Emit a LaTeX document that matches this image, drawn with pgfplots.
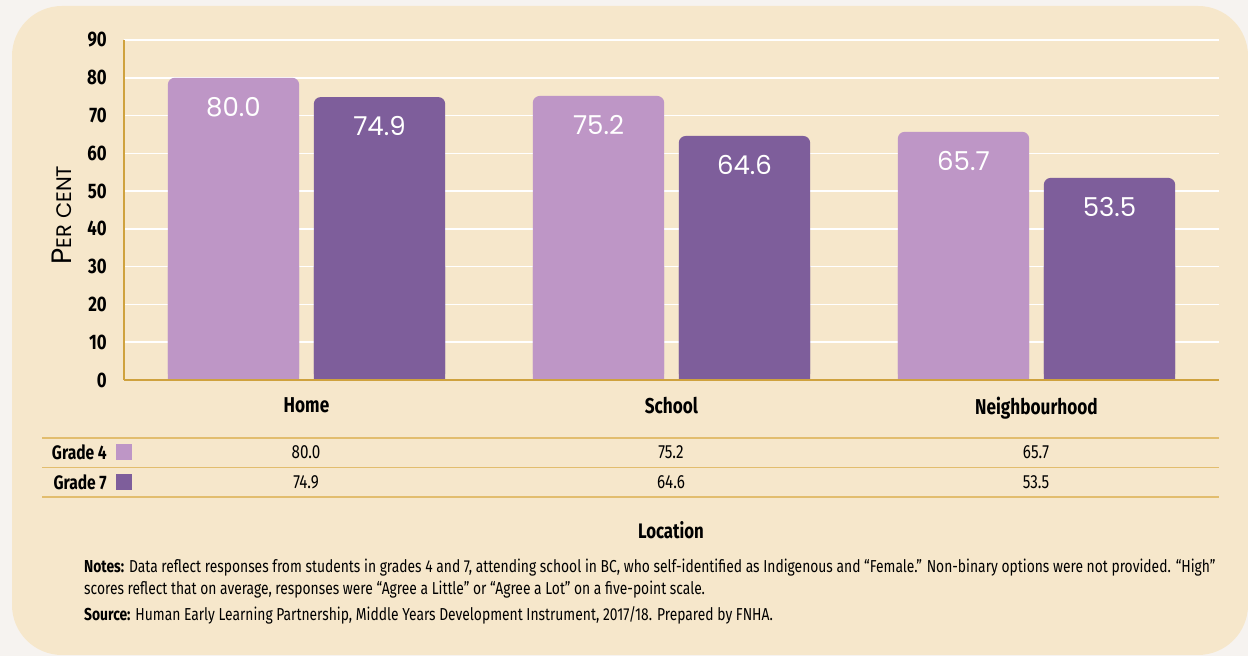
\documentclass[border=0pt]{standalone}
\usepackage{fontspec}
\setmainfont{Fira Sans}[FakeStretch=0.8]
\newfontfamily\geo{Poppins}
\usepackage{pgfplots}
\pgfplotsset{compat=1.18}
\definecolor{outerbg}{HTML}{F6F3F0}
\definecolor{cream}{HTML}{F6E7CB}
\definecolor{lightp}{HTML}{BE96C6}
\definecolor{darkp}{HTML}{7E5E9B}
\definecolor{gold}{HTML}{CFA23E}
\definecolor{tline}{HTML}{E2BD6E}
\begin{document}
\begin{tikzpicture}[x=1pt,y=1pt]
\path[use as bounding box] (0,0) rectangle (1248,656);
\fill[outerbg] (0,0) rectangle (1248,656);
\fill[cream, rounded corners=50pt] (12,1) rectangle (1248,650);
\begin{axis}[
 at={(124pt,276pt)}, anchor=south west, scale only axis,
 width=1095pt, height=340pt,
 xmin=-0.5, xmax=2.5, ymin=0, ymax=90,
 xtick={0,1,2}, xticklabels={Home,School,Neighbourhood},
 ytick={0,10,...,90},
 axis x line*=bottom, axis y line*=left,
 axis line style={gold, line width=2.5pt, -},
 major tick length=0pt,
 ymajorgrids, grid style={white, line width=1.5pt},
 ybar, bar width=0.36,
 /pgf/number format/assume math mode=true,
 xticklabel style={font=\fontsize{21.5}{21.5}\selectfont\bfseries, anchor=north, inner sep=0pt, yshift=-17pt},
 yticklabel style={font=\fontsize{21}{21}\selectfont\bfseries, anchor=east, inner sep=0pt, xshift=-17pt},
 nodes near coords={\pgfmathprintnumber[fixed,zerofill,precision=1]{\pgfplotspointmeta}},
 every node near coord/.append style={font=\geo\fontsize{26}{26}\selectfont, text=white, anchor=north, inner sep=0pt, yshift=-19pt},
]
\addplot[fill=lightp, draw=none, rounded corners=7pt, bar shift=-0.2] coordinates {(0,80.0) (1,75.2) (2,65.7)};
\addplot[fill=darkp, draw=none, rounded corners=7pt, bar shift=0.2] coordinates {(0,74.9) (1,64.6) (2,53.5)};
\end{axis}
\begin{axis}[
 at={(124pt,276pt)}, anchor=south west, scale only axis,
 width=1095pt, height=113.333pt,
 xmin=-0.5, xmax=2.5, ymin=0, ymax=30,
 axis x line*=bottom, axis y line=none,
 axis line style={gold, line width=2.5pt, -},
 xtick=\empty, ytick=\empty, axis on top, clip=true,
 ybar, bar width=0.36,
]
\addplot[fill=lightp, draw=none, bar shift=-0.2] coordinates {(0,80.0) (1,75.2) (2,65.7)};
\addplot[fill=darkp, draw=none, bar shift=0.2] coordinates {(0,74.9) (1,64.6) (2,53.5)};
\end{axis}
% y label
\node[rotate=90, anchor=center] at (62,441) {\geo{\fontsize{28}{28}\selectfont P}{\fontsize{21}{21}\selectfont ER CENT}};
% table
\draw[tline, line width=1.5pt] (42,218) -- (1219,218);
\draw[tline, line width=1.5pt] (42,188.5) -- (1219,188.5);
\draw[tline, line width=1.5pt] (42,159) -- (1219,159);
\node[anchor=east, inner sep=0pt, font=\fontsize{19.5}{19.5}\selectfont\bfseries] at (107,204) {Grade 4};
\node[anchor=east, inner sep=0pt, font=\fontsize{19.5}{19.5}\selectfont\bfseries] at (107,174) {Grade 7};
\fill[lightp] (116,196) rectangle (132,212);
\fill[darkp] (116,166) rectangle (132,182);
\begin{scope}[every node/.style={anchor=center, inner sep=0pt, font=\fontsize{19}{19}\selectfont}]
\node at (306,204) {80.0}; \node at (671,204) {75.2}; \node at (1036,204) {65.7};
\node at (306,174) {74.9}; \node at (671,174) {64.6}; \node at (1036,174) {53.5};
\end{scope}
\node[anchor=center, inner sep=0pt, font=\fontsize{21}{21}\selectfont\bfseries] at (671,126) {Location};
\begin{scope}[every node/.style={anchor=base west, inner sep=0pt, font=\fontsize{17.3}{22}\selectfont}]
\node at (84,83) {\textbf{Notes:} Data reflect responses from students in grades 4 and 7, attending school in BC, who self-identified as Indigenous and “Female.” Non-binary options were not provided. “High”};
\node at (84,61) {scores reflect that on average, responses were “Agree a Little” or “Agree a Lot” on a five-point scale.};
\node at (84,35) {\textbf{Source:} Human Early Learning Partnership, Middle Years Development Instrument, 2017/18. Prepared by FNHA.};
\end{scope}
\end{tikzpicture}
\end{document}
